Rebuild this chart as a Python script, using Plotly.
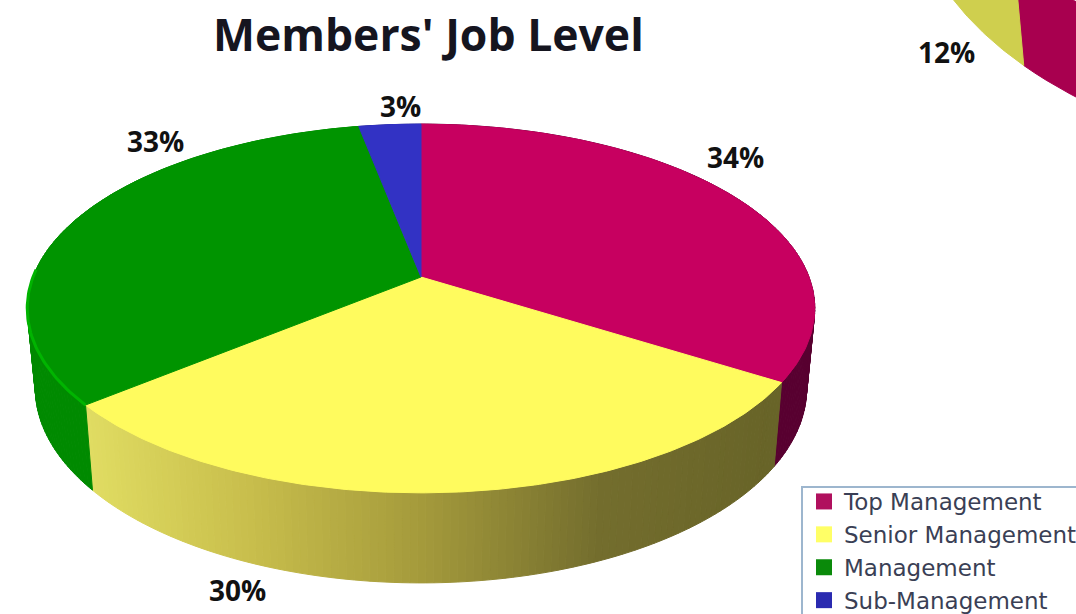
import numpy as np
import plotly.graph_objects as go

# ---- data ----
categories = ["Top Management", "Senior Management", "Management", "Sub-Management"]
job_level_values = [34, 30, 33, 3]
cropped_pie_values = [64, 12]
title_text = "Members' Job Level"

# ---- styles ----
top_colors = ["#C70060", "#FFFB5E", "#009400", "#3232C4"]
legend_colors = ["#B0105E", "#FFFF66", "#0A8A0A", "#2A2AB0"]
ramp_x = [90, 250, 420, 600, 780]
ramp_rgb = {
    0: [(88, 0, 48)] * 5,
    1: [(224, 220, 98), (200, 190, 76), (165, 155, 60), (116, 110, 46), (104, 100, 40)],
    2: [(0, 138, 0)] * 5,
    3: [(30, 30, 130)] * 5,
}

FONT = "Open Sans"
W, H = 1076, 614
CX, K = 421, 0.1707


def project(theta, cy, a, b):
    """Perspective projection of a pie rim; theta runs clockwise from the top."""
    s, c = np.sin(theta), np.cos(theta)
    d = 1 + K * c
    return CX + b * s / d, cy - a * c / d


TOP = (277, 179, 388)
BOTTOM = (355, 189, 380)

fig = go.Figure()


def poly(xs, ys, color):
    fig.add_trace(go.Scatter(
        x=xs, y=ys, mode="lines", fill="toself", fillcolor=color,
        line=dict(color=color, width=1),
        hoverinfo="skip", showlegend=False))


edges = np.deg2rad(np.concatenate([[0], np.cumsum(job_level_values)]) * 3.6)

# side walls
for i in range(len(job_level_values)):
    n = max(2, int(np.rad2deg(edges[i + 1] - edges[i])))
    ts = np.linspace(edges[i], edges[i + 1], n + 1)
    for t0, t1 in zip(ts[:-1], ts[1:]):
        seg = np.linspace(t0, t1, 3)
        xt, yt = project(seg, *TOP)
        xb, yb = project(seg, *BOTTOM)
        mid_x = xt.mean()
        rgb = [np.interp(mid_x, ramp_x, [c[j] for c in ramp_rgb[i]]) for j in range(3)]
        poly(np.r_[xt, xb[::-1], xt[0]], np.r_[yt, yb[::-1], yt[0]],
             "rgb(%d,%d,%d)" % tuple(rgb))

# top faces
for i in range(len(job_level_values)):
    t = np.linspace(edges[i], edges[i + 1], 160)
    x, y = project(t, *TOP)
    poly(np.r_[CX, x, CX], np.r_[TOP[0], y, TOP[0]], top_colors[i])

# green rim highlight
t = np.linspace(edges[2], edges[2] + np.deg2rad(42), 50)
x, y = project(t, *TOP)
fig.add_trace(go.Scatter(x=x, y=y, mode="lines", line=dict(color="#00B400", width=3),
                         hoverinfo="skip", showlegend=False))

# fragment of the neighbouring pie, cropped by the page edge
c2x, c2y, r2x, r2y, h2x, h2y = 1409, -120, 500, 291, -9, 100
e2 = np.deg2rad(np.concatenate([[0], np.cumsum(cropped_pie_values)]) * 3.6)
for i, col in enumerate(["#A8004F", "#CFCF4E"]):
    t = np.linspace(e2[i], e2[i + 1], 120)
    xb, yb = c2x + r2x * np.sin(t), c2y - r2y * np.cos(t)
    poly(np.r_[xb, xb[::-1] + h2x, xb[0]], np.r_[yb, yb[::-1] - h2y, yb[0]], col)

# legend entries
for name, col in zip(categories, legend_colors):
    fig.add_trace(go.Scatter(x=[None], y=[None], mode="markers", name=name,
                             marker=dict(symbol="square", size=17, color=col)))

label_font = dict(family=FONT, size=28, color="#111111", weight="bold")
label_pos = [(735, 157), (237, 590), (155, 141), (400, 106)]
annotations = [
    dict(x=px, y=py, xref="x", yref="y", text=f"{v}%", showarrow=False, font=label_font)
    for (px, py), v in zip(label_pos, job_level_values)
]
annotations.append(dict(x=946, y=52, xref="x", yref="y", text=f"{cropped_pie_values[1]}%",
                        showarrow=False, font=label_font))
annotations.append(dict(x=428, y=33, xref="x", yref="y", text=title_text, showarrow=False,
                        font=dict(family=FONT, size=44.5, color="#15151F", weight="bold")))

fig.update_layout(
    width=W, height=H,
    margin=dict(l=0, r=0, t=0, b=0, autoexpand=False),
    paper_bgcolor="white", plot_bgcolor="white",
    xaxis=dict(range=[0, W], visible=False, fixedrange=True),
    yaxis=dict(range=[H, 0], visible=False, fixedrange=True),
    annotations=annotations,
    shapes=[dict(type="rect", xref="x", yref="y", x0=802, x1=1100, y0=487, y1=640,
                 line=dict(color="#9DB6CE", width=2), fillcolor="white", layer="below")],
    showlegend=True,
    legend=dict(x=804 / W, y=1 - 480 / H, xanchor="left", yanchor="top",
                bgcolor="rgba(0,0,0,0)", borderwidth=0,
                itemwidth=30, tracegroupgap=0,
                font=dict(family="DejaVu Sans", size=23, color="#3A3F55")),
)
fig.write_html("out.html", config=dict(displayModeBar=False),
               post_script="document.body.style.margin='0';document.documentElement.style.overflow='hidden';")
